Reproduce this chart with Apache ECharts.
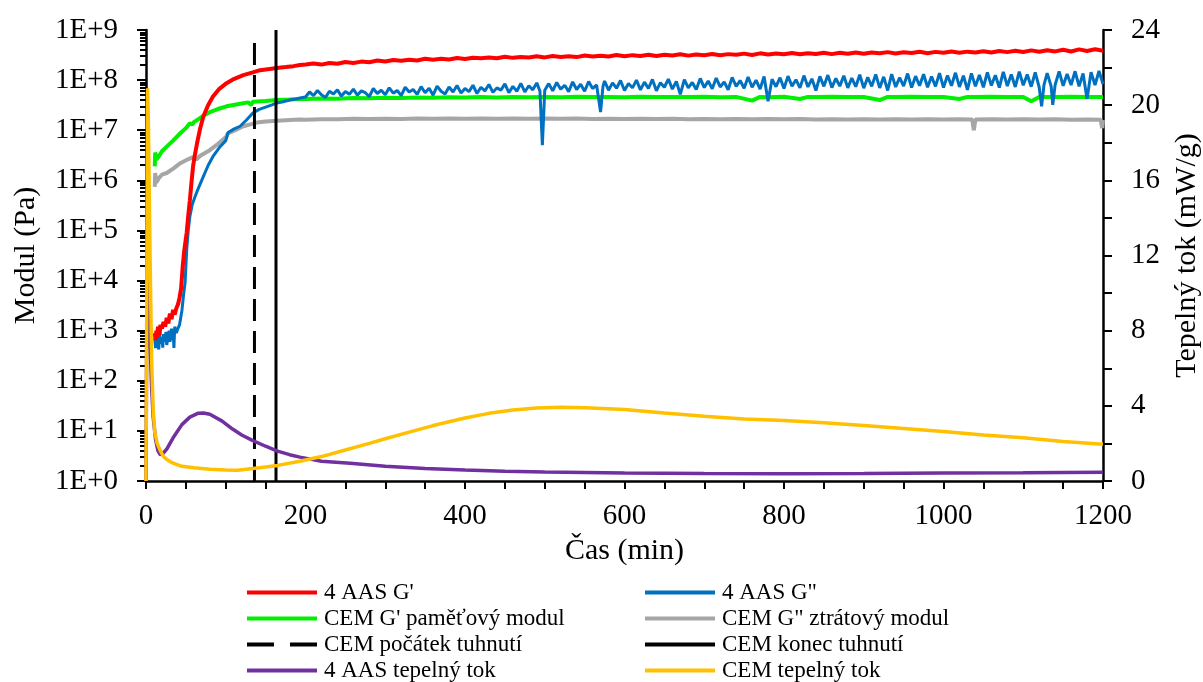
<!DOCTYPE html>
<html><head><meta charset="utf-8">
<script src="https://cdn.jsdelivr.net/npm/echarts@6/dist/echarts.min.js"></script>
<style>html,body{margin:0;padding:0;background:#fff;overflow:hidden}#c{width:1203px;height:682px}</style>
</head><body><div id="c"></div><script>
// ---- data (time in min, moduli in Pa, heat flow in mW/g) ----
const xTickLabels = ['0','200','400','600','800','1000','1200'];
const leftTickLabels = ['1E+0','1E+1','1E+2','1E+3','1E+4','1E+5','1E+6','1E+7','1E+8','1E+9'];
const rightTickLabels = ['0','4','8','12','16','20','24'];
const legendCol1 = ["4 AAS G'", "CEM G' paměťový modul", 'CEM počátek tuhnutí', '4 AAS tepelný tok'];
const legendCol2 = ['4 AAS G"', 'CEM G" ztrátový modul', 'CEM konec tuhnutí', 'CEM tepelný tok'];

const aasG1 = [[11,900],[12,650],[13,1000],[14,720],[15,1200],[17,820],[18,1300],[20,1100],[22,1500],[24,1200],[26,1800],[28,1400],[30,2200],[32,1700],[34,2600],[36,2100],[38,2800],[40,3300],[42,4500],[44,7000],[46,19000],[48,40000],[51,90000],[53,200000],[55,400000],[57,900000],[59,1.9e6],[61,3e6],[64,5.5e6],[68,1.1e7],[72,1.9e7],[78,3.2e7],[84,4.7e7],[92,6.7e7],[101,8.7e7],[110,1.05e8],[122,1.26e8],[134,1.43e8],[143,1.58e8],[155,1.67e8],[164,1.74e8],[175,1.82e8],[185,1.9e8],[193,2.0e8],
[200,2.05e8],[210,2.14e8],[220,2.04e8],[230,2.2e8],[240,2.12e8],[250,2.3e8],[260,2.2e8],[270,2.34e8],[280,2.28e8],[290,2.47e8],[300,2.36e8],[310,2.52e8],[320,2.44e8],[330,2.56e8],[340,2.46e8],[350,2.66e8],[360,2.55e8],[370,2.68e8],[380,2.58e8],[390,2.77e8],[400,2.64e8],[410,2.8e8],[420,2.72e8],[430,2.84e8],[440,2.72e8],[450,2.92e8],[460,2.78e8],[470,2.9e8],[480,2.84e8],[490,2.99e8],[500,2.84e8],[510,3.02e8],[520,2.9e8],[530,3.0e8],[540,2.88e8],[550,3.1e8],[560,2.96e8],[570,3.06e8],[580,2.97e8],[590,3.16e8],[600,2.99e8],[610,3.15e8],[620,3.04e8],[630,3.22e8],[640,3.03e8],[650,3.2e8],[660,3.1e8],[670,3.27e8],[680,3.08e8],[690,3.25e8],[700,3.14e8],[710,3.33e8],[720,3.13e8],[730,3.3e8],[740,3.2e8],[750,3.38e8],[760,3.18e8],[770,3.42e8],[780,3.26e8],[790,3.4e8],[800,3.27e8],[810,3.47e8],[820,3.27e8],[830,3.44e8],[840,3.32e8],[850,3.52e8],[860,3.3e8],[870,3.5e8],[880,3.37e8],[890,3.57e8],[900,3.36e8],[910,3.55e8],[920,3.42e8],[930,3.62e8],[940,3.4e8],[950,3.6e8],[960,3.46e8],[970,3.67e8],[980,3.45e8],[990,3.66e8],[1000,3.52e8],[1010,3.72e8],[1020,3.5e8],[1030,3.7e8],[1040,3.57e8],[1050,3.78e8],[1060,3.56e8],[1070,3.82e8],[1080,3.62e8],[1090,3.84e8],[1100,3.63e8],[1110,3.92e8],[1120,3.68e8],[1130,3.94e8],[1140,3.74e8],[1150,4.02e8],[1160,3.73e8],[1170,4.1e8],[1180,3.82e8],[1190,4.12e8],[1200,3.86e8]];

const aasG2 = [[11,700],[12,450],[13,800],[14,500],[15,650],[16,420],[17,900],[18,550],[20,750],[21,460],[22,850],[24,600],[25,950],[26,520],[28,800],[29,1000],[30,600],[32,1100],[33,650],[34,1000],[35,450],[36,1200],[38,900],[40,1100],[42,1300],[44,2000],[45,2500],[47,5000],[49,9000],[51,40000],[53,100000],[55,190000],[58,330000],[61,450000],[64,600000],[68,850000],[72,1.2e6],[78,2e6],[84,3e6],[92,4.5e6],[100,6.2e6],[102,6.5e6],[103,9e6],[110,1.05e7],[118,1.2e7],[126,1.6e7],[134,2.2e7],[142,2.6e7],[150,2.9e7],[158,3.2e7],[164,3.5e7],[172,3.7e7],[180,4.0e7],[188,4.2e7],[193,4.4e7],
[200,4.6e7],[205,5.8e7],[210,4.9e7],[215,6.2e7],[220,5.1e7],[225,4.5e7],[230,6.0e7],[235,5.3e7],[240,6.4e7],[245,4.8e7],[250,5.9e7],[255,5.2e7],[260,6.6e7],[265,5.0e7],[270,6.1e7],[275,5.6e7],[280,4.7e7],[285,6.8e7],[290,5.4e7],[295,6.3e7],[300,5.1e7],[305,7.0e7],[310,5.5e7],[315,6.2e7],[320,4.9e7],[325,7.2e7],[330,5.8e7],[335,6.5e7],[340,5.2e7],[345,7.4e7],[350,5.6e7],[355,6.9e7],[360,5.0e7],[365,7.6e7],[370,6.0e7],[375,5.3e7],[380,7.3e7],[385,5.8e7],[390,7.8e7],[395,5.5e7],[400,6.8e7],[405,5.9e7],[410,7.9e7],[415,5.4e7],[420,7.2e7],[425,6.1e7],[430,8.2e7],[435,5.7e7],[440,7.0e7],[445,6.3e7],[450,8.4e7],[455,5.6e7],[460,7.5e7],[465,6.0e7],[470,8.6e7],[475,5.8e7],[480,7.7e7],[485,6.4e7],[490,8.8e7],[494,6.0e7],[497,5e6],[500,6.3e7],[505,8.5e7],[510,6.1e7],[515,9.0e7],[520,6.6e7],[525,7.9e7],[530,5.9e7],[535,9.2e7],[540,6.5e7],[545,8.3e7],[550,6.0e7],[555,9.4e7],[560,6.8e7],[565,8.0e7],[570,2.3e7],[573,7.5e7],[575,9.6e7],[580,6.3e7],[585,8.8e7],[590,6.9e7],[595,9.8e7],[600,6.2e7],[605,8.6e7],[610,7.0e7],[615,1.0e8],[620,6.4e7],[625,9.1e7],[630,6.8e7],[635,1.03e8],[640,6.1e7],[645,8.9e7],[650,7.2e7],[655,1.05e8],[660,6.6e7],[665,9.4e7],[670,5.2e7],[675,1.02e8],[680,7.0e7],[685,9.0e7],[690,6.5e7],[695,1.08e8],[700,7.1e7],[705,9.6e7],[710,6.7e7],[715,1.1e8],[720,7.3e7],[725,9.2e7],[730,6.4e7],[735,1.13e8],[740,7.5e7],[745,9.8e7],[750,6.9e7],[755,1.15e8],[760,7.2e7],[765,1.0e8],[770,6.6e7],[775,1.18e8],[780,3.8e7],[785,1.04e8],[790,7.4e7],[795,1.12e8],[800,6.8e7],[805,1.2e8],[810,7.6e7],[815,1.02e8],[820,7.0e7],[825,1.23e8],[830,7.3e7],[835,1.06e8],[840,6.2e7],[845,1.19e8],[850,7.5e7],[855,1.26e8],[860,7.1e7],[865,1.08e8],[870,7.6e7],[875,1.22e8],[880,7.0e7],[885,1.1e8],[890,7.4e7],[895,1.28e8],[900,6.9e7],[905,1.14e8],[910,7.5e7],[915,1.3e8],[920,7.0e7],[925,1.16e8],[930,6.2e7],[935,1.32e8],[940,7.3e7],[945,1.12e8],[950,7.6e7],[955,1.35e8],[960,7.1e7],[965,1.2e8],[970,7.7e7],[975,1.31e8],[980,7.2e7],[985,1.18e8],[990,7.5e7],[995,1.38e8],[1000,7.1e7],[1005,1.24e8],[1010,7.7e7],[1015,1.4e8],[1020,7.3e7],[1025,1.22e8],[1030,6.4e7],[1035,1.36e8],[1040,7.5e7],[1045,1.27e8],[1050,7.2e7],[1055,1.43e8],[1060,7.8e7],[1065,1.25e8],[1070,7.1e7],[1075,1.46e8],[1080,7.6e7],[1085,1.3e8],[1090,7.3e7],[1095,1.48e8],[1100,7.9e7],[1105,1.29e8],[1110,7.4e7],[1115,1.42e8],[1120,7.2e7],[1123,3.0e7],[1126,8.0e7],[1130,1.38e8],[1135,7.5e7],[1137,3.2e7],[1140,8.1e7],[1145,1.49e8],[1150,7.7e7],[1155,1.32e8],[1160,8.0e7],[1165,1.5e8],[1170,7.5e7],[1175,1.36e8],[1180,4.2e7],[1185,1.44e8],[1190,8.0e7],[1195,1.52e8],[1200,8.3e7]];

const cemG1 = [[11,1.9e6],[11.5,3.6e6],[13,2.6e6],[16,3.0e6],[20,3.8e6],[26,4.7e6],[34,6.2e6],[43,8.7e6],[50,1.1e7],[55,1.38e7],[58,1.3e7],[60,1.45e7],[70,1.85e7],[80,2.3e7],[90,2.65e7],[101,3.0e7],[115,3.3e7],[128,3.6e7],[132,3.2e7],[134,3.7e7],[150,3.85e7],[164,4.0e7],[180,4.1e7],[193,4.2e7],
[200,4.2e7],[220,4.3e7],[240,4.25e7],[260,4.38e7],[280,4.34e7],[300,4.45e7],[320,4.4e7],[340,4.5e7],[360,4.46e7],[380,4.55e7],[400,4.5e7],[420,4.58e7],[440,4.52e7],[460,4.6e7],[480,4.55e7],[500,4.62e7],[520,4.57e7],[540,4.64e7],[560,4.58e7],[580,4.62e7],[600,4.57e7],[620,4.64e7],[640,4.6e7],[660,4.62e7],[680,4.58e7],[700,4.64e7],[720,4.55e7],[740,4.62e7],[760,3.9e7],[770,4.62e7],[780,4.57e7],[800,4.64e7],[820,4.2e7],[830,4.62e7],[840,4.58e7],[860,4.64e7],[880,4.6e7],[900,4.62e7],[920,4.0e7],[930,4.62e7],[940,4.58e7],[960,4.64e7],[980,4.6e7],[1000,4.62e7],[1020,4.2e7],[1030,4.62e7],[1040,4.58e7],[1060,4.64e7],[1080,4.6e7],[1100,4.62e7],[1110,3.8e7],[1120,4.62e7],[1140,4.6e7],[1160,4.64e7],[1180,4.58e7],[1200,4.62e7]];

const cemG2 = [[11,7.4e5],[11.5,1.4e6],[13,9e5],[16,1.1e6],[20,1.3e6],[26,1.4e6],[35,1.75e6],[43,2.2e6],[52,2.6e6],[59,2.9e6],[63,2.6e6],[68,3.1e6],[80,4e6],[90,5.3e6],[101,7.5e6],[102,8.5e6],[112,1.0e7],[122,1.2e7],[132,1.32e7],[139,1.42e7],[150,1.5e7],[164,1.55e7],[180,1.6e7],[193,1.63e7],
[200,1.62e7],[220,1.66e7],[240,1.65e7],[260,1.69e7],[280,1.67e7],[300,1.7e7],[320,1.68e7],[340,1.71e7],[360,1.69e7],[380,1.72e7],[400,1.7e7],[420,1.72e7],[440,1.69e7],[460,1.72e7],[480,1.7e7],[500,1.72e7],[520,1.69e7],[540,1.71e7],[560,1.68e7],[580,1.7e7],[600,1.68e7],[620,1.7e7],[640,1.67e7],[660,1.69e7],[680,1.66e7],[700,1.68e7],[720,1.66e7],[740,1.68e7],[760,1.65e7],[780,1.67e7],[800,1.65e7],[820,1.67e7],[840,1.64e7],[860,1.66e7],[880,1.64e7],[900,1.66e7],[920,1.64e7],[940,1.66e7],[960,1.63e7],[980,1.65e7],[1000,1.63e7],[1020,1.65e7],[1036,1.63e7],[1038,1.0e7],[1040,1.63e7],[1060,1.65e7],[1080,1.63e7],[1100,1.65e7],[1120,1.63e7],[1140,1.65e7],[1160,1.62e7],[1180,1.64e7],[1197,1.62e7],[1199,1.1e7],[1200,1.6e7]];

const aasHeat = [[0,0],[1.5,13.2],[3,11],[5,7.5],[7,5],[9,3.4],[12,2.2],[15,1.6],[18,1.4],[21,1.45],[26,1.7],[34,2.3],[45,3.0],[55,3.4],[65,3.6],[72,3.62],[80,3.55],[95,3.2],[109,2.75],[120,2.45],[134,2.15],[150,1.85],[164,1.6],[180,1.4],[193,1.27],[220,1.05],[256,0.95],[300,0.78],[350,0.66],[400,0.58],[450,0.52],[500,0.48],[600,0.42],[700,0.4],[800,0.39],[900,0.4],[1000,0.42],[1100,0.44],[1200,0.47]];

const cemHeat = [[0,0],[1,10],[2,20.9],[3,19],[5,12.3],[7,6.5],[9,3.8],[11,2.6],[14,2.0],[18,1.6],[22,1.3],[26,1.15],[34,0.95],[45,0.78],[60,0.7],[80,0.62],[100,0.58],[115,0.57],[134,0.66],[150,0.75],[165,0.83],[193,1.05],[220,1.3],[250,1.65],[280,2.0],[300,2.25],[330,2.6],[360,2.95],[400,3.35],[430,3.6],[460,3.78],[490,3.88],[520,3.92],[550,3.9],[580,3.85],[600,3.8],[650,3.62],[700,3.45],[750,3.3],[800,3.22],[850,3.1],[900,2.95],[950,2.8],[1000,2.63],[1050,2.45],[1100,2.3],[1150,2.1],[1200,1.95]];

const onsetLine = [[136,0],[136,23.6]];   // CEM počátek tuhnutí
const endLine = [[163,0],[163,24]];       // CEM konec tuhnutí

// ---- chart ----
const FONT = "'Liberation Serif','Times New Roman',serif";
const minorLogTicks = [];
for (let e = 0; e < 9; e++) for (let m = 2; m <= 9; m++) minorLogTicks.push(m * Math.pow(10, e));

const chart = echarts.init(document.getElementById('c'), null, {renderer: 'canvas', width: 1203, height: 682});
const axisLine = {show: true, lineStyle: {color: '#000', width: 2.5}};
const lbl = {color: '#000', fontFamily: FONT, fontSize: 29};
const nameStyle = {color: '#000', fontFamily: FONT, fontSize: 30};
const DASH_ICON = 'path://M0,0H27V4H0Z M43,0H70V4H43Z';

function line(name, data, color, yIdx, width, extra) {
  return Object.assign({
    name, type: 'line', data, yAxisIndex: yIdx, symbol: 'none', showSymbol: false,
    lineStyle: {color, width}, itemStyle: {color}, animation: false
  }, extra || {});
}
const legendText = {color: '#000', fontFamily: FONT, fontSize: 23, lineHeight: 22, padding: [0, 0, 0, 2]};
const legends = [];
[[legendCol1, 247], [legendCol2, 645]].forEach(([names, left]) => {
  names.forEach((n, i) => {
    legends.push({
      orient: 'horizontal', left, top: 581 + 26 * i, padding: 0, itemWidth: 70, itemHeight: 4,
      selectedMode: false, textStyle: legendText,
      data: [{name: n, icon: n === 'CEM počátek tuhnutí' ? DASH_ICON : 'rect'}]
    });
  });
});

chart.setOption({
  animation: false,
  backgroundColor: '#fff',
  grid: {left: 146, right: 100, top: 30, bottom: 201, containLabel: false, outerBoundsMode: 'none'},
  xAxis: {
    type: 'value', min: 0, max: 1200, interval: 200,
    axisLine, splitLine: {show: false},
    axisTick: {show: true, inside: false, length: 8, lineStyle: {color: '#000', width: 2}},
    minorTick: {show: true, splitNumber: 4, length: 8, lineStyle: {color: '#000', width: 2}},
    axisLabel: Object.assign({margin: 21, formatter: v => xTickLabels[Math.round(v / 200)]}, lbl),
    name: 'Čas (min)', nameLocation: 'middle', nameGap: 52, nameTextStyle: nameStyle
  },
  yAxis: [
    {
      type: 'log', logBase: 10, min: 1, max: 1e9, interval: 1, position: 'left',
      axisLine, splitLine: {show: false},
      axisTick: {show: true, length: 9, lineStyle: {color: '#000', width: 2}},
      axisLabel: Object.assign({margin: 28, formatter: v => leftTickLabels[Math.round(Math.log10(v))]}, lbl),
      name: 'Modul (Pa)', nameLocation: 'middle', nameGap: 105, nameRotate: 90, nameTextStyle: nameStyle
    },
    {
      type: 'value', min: 0, max: 24, interval: 4, position: 'right',
      axisLine, splitLine: {show: false},
      axisTick: {show: true, length: 9, lineStyle: {color: '#000', width: 2}},
      minorTick: {show: true, splitNumber: 2, length: 9, lineStyle: {color: '#000', width: 2}},
      axisLabel: Object.assign({margin: 28, formatter: v => rightTickLabels[Math.round(v / 4)]}, lbl),
      name: 'Tepelný tok (mW/g)', nameLocation: 'middle', nameGap: 69, nameRotate: 90, nameTextStyle: nameStyle
    },
    {
      type: 'log', logBase: 10, min: 1, max: 1e9, position: 'left',
      axisLine: {show: false}, splitLine: {show: false},
      axisLabel: {show: false},
      axisTick: {show: true, length: 6, customValues: minorLogTicks, lineStyle: {color: '#000', width: 2}}
    }
  ],
  legend: legends,
  series: [
    line('CEM G" ztrátový modul', cemG2, '#A6A6A6', 0, 4),
    line("CEM G' paměťový modul", cemG1, '#00F000', 0, 4),
    line('4 AAS G"', aasG2, '#0070C0', 0, 3),
    line("4 AAS G'", aasG1, '#FF0000', 0, 4),
    line('CEM počátek tuhnutí', onsetLine, '#000000', 1, 3, {lineStyle: {color: '#000', width: 3, type: [22, 10]}}),
    line('CEM konec tuhnutí', endLine, '#000000', 1, 3),
    line('4 AAS tepelný tok', aasHeat, '#7030A0', 1, 3.5),
    line('CEM tepelný tok', cemHeat, '#FFC000', 1, 3.5)
  ]
});
</script></body></html>
